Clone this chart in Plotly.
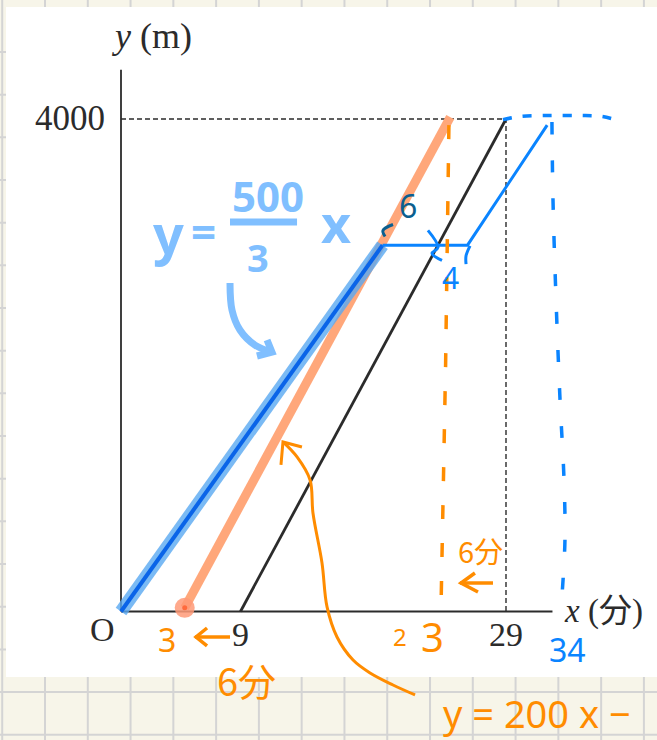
import plotly.graph_objects as go

# ---- textbook graph (x: minutes, y: metres) ----
axis_x_end = 32.5
axis_y_top = 4400
black_x = [9, 29]          # y = 200x - 1800
black_y = [0, 4000]
guide_x = [0, 29, 29]      # dashed guide to (29, 4000)
guide_y = [4000, 4000, 0]

# ---- hand-drawn annotations ----
orange_x = [4.8, 24.8]     # shifted line
orange_y = [30, 4015]
orange_dot_x = [4.8]
orange_dot_y = [30]
orange_dash_x = [24.7, 24.45, 24.1]
orange_dash_y = [3950, 2000, 0]

blue_hi_x = [0, 19.7]      # y = 500/3 x
blue_hi_y = [0, 2975]
blue_path_x = [19.7, 26.1, 32.1]
blue_path_y = [2975, 2975, 3950]
blue_top_dash_x = [28.77, 30.05, 32.31, 34.57, 36.23, 37.44]
blue_top_dash_y = [3995, 4020, 4028, 4028, 4020, 3987]
blue_side_dash_x = [32.46, 32.54, 32.77, 33.07, 33.37, 33.44, 33.22]
blue_side_dash_y = [3975, 3342, 2530, 1718, 1068, 581, 134]

orange_curve_x = [12.20, 13.26, 14.24, 14.46, 15.14, 15.52, 16.27, 17.48, 18.76, 20.49, 22.15]
orange_curve_y = [1377, 1255, 1068, 800, 394, 37, -207, -394, -499, -597, -678]
orange_head_x = [12.05, 12.20, 13.63]
orange_head_y = [1190, 1377, 1336]

# small "<-" arrows next to the shifted times
arrow_low_shaft_x = [5.57, 8.21]
arrow_low_shaft_y = [-207, -207]
arrow_low_head_x = [6.48, 5.65, 6.48]
arrow_low_head_y = [-134, -207, -280]
arrow_high_shaft_x = [25.53, 28.02]
arrow_high_shaft_y = [231, 231]
arrow_high_head_x = [26.66, 25.61, 26.89]
arrow_high_head_y = [313, 231, 158]

lb_curve_x = [8.21, 8.36, 8.96, 10.09, 11.37]
lb_curve_y = [2668, 2449, 2286, 2164, 2107]
lb_head_x = [11.0, 11.37, 10.24]
lb_head_y = [2205, 2107, 2075]
frac_bar_x = [8.21, 13.26]
frac_bar_y = [3163, 3163]

mark_end_x = [26.29, 25.99, 25.99]
mark_end_y = [2970, 2889, 2822]
mark_cross_x = [23.12, 23.88, 23.43, 24.18]
mark_cross_y = [3095, 2957, 2908, 2851]
teal_curl_x = [20.49, 19.73, 19.89]
teal_curl_y = [3143, 3095, 3046]

ORANGE = "#ff8c00"
SALMON = "#ffa77a"
BLUE = "#0a84ff"
LBLUE = "#80bfff"
TEAL = "#0b5f8f"
INK = "#2b2b2b"
CREAM = "#f7f5e9"
GRID = "#d4d4d4"

fig = go.Figure()


def line(x, y, color, width, dash="solid", opacity=1.0, shape="linear"):
    fig.add_trace(go.Scatter(
        x=x, y=y, mode="lines", hoverinfo="skip", opacity=opacity,
        line=dict(color=color, width=width, dash=dash, shape=shape),
    ))


# textbook axes and guides
line([0, axis_x_end], [0, 0], INK, 1.8)
line([0, 0], [0, axis_y_top], INK, 1.8)
line(guide_x, guide_y, INK, 1.4, dash="5px,3px")

# shifted orange line with start dot
line(orange_x, orange_y, SALMON, 9)
fig.add_trace(go.Scatter(x=orange_dot_x, y=orange_dot_y, mode="markers", hoverinfo="skip",
                         marker=dict(size=20, color="#ff9a78", opacity=0.85)))
fig.add_trace(go.Scatter(x=orange_dot_x, y=orange_dot_y, mode="markers", hoverinfo="skip",
                         marker=dict(size=5, color="#ff6a3d")))

# black line from the book
line(black_x, black_y, INK, 2.8)

# blue highlighted line
line(blue_hi_x, blue_hi_y, "#5aa9f2", 13, opacity=0.8)
line(blue_hi_x, blue_hi_y, "#0a64e8", 4)
line(blue_path_x, blue_path_y, BLUE, 3)
line(blue_top_dash_x, blue_top_dash_y, BLUE, 3.5, dash="9px,11px", shape="spline")
line(blue_side_dash_x, blue_side_dash_y, BLUE, 3.5, dash="12px,26px", shape="spline")
line(mark_end_x, mark_end_y, BLUE, 3, shape="spline")
line(mark_cross_x, mark_cross_y, BLUE, 3, shape="spline")
line(teal_curl_x, teal_curl_y, TEAL, 3, shape="spline")

# orange dashed line, curved arrow and small arrows
line(orange_dash_x, orange_dash_y, ORANGE, 3.5, dash="14px,24px")
line(orange_curve_x, orange_curve_y, ORANGE, 3, shape="spline")
line(orange_head_x, orange_head_y, ORANGE, 3)
line(arrow_low_shaft_x, arrow_low_shaft_y, ORANGE, 3.5)
line(arrow_low_head_x, arrow_low_head_y, ORANGE, 3.5)
line(arrow_high_shaft_x, arrow_high_shaft_y, ORANGE, 3.5)
line(arrow_high_head_x, arrow_high_head_y, ORANGE, 3.5)

# light blue curved arrow and fraction bar
line(lb_curve_x, lb_curve_y, LBLUE, 7, shape="spline")
line(lb_head_x, lb_head_y, LBLUE, 7)
line(frac_bar_x, frac_bar_y, LBLUE, 7)

SERIF = "Liberation Serif, DejaVu Serif, serif"
HAND = "Noto Sans, Noto Sans CJK JP, DejaVu Sans, sans-serif"


def label(x, y, text, size, color, font=SERIF, xanchor="center", bold=False):
    if bold:
        text = f"<b>{text}</b>"
    fig.add_annotation(x=x, y=y, text=text, showarrow=False, xanchor=xanchor, yanchor="middle",
                       font=dict(size=size, color=color, family=font))


# book labels
label(-1.05, 4000, "4000", 35, INK, xanchor="right")
label(-1.43, -150, "O", 34, INK)
label(9, -190, "9", 34, INK)
label(29, -190, "29", 34, INK)
label(-0.85, 4670, "<i>y</i> (m)", 36, INK, xanchor="left")
label(33.2, 30, "<i>x</i> (<span style='font-family:Noto Sans CJK JP'>分</span>)", 33, INK, xanchor="left")

# handwritten orange notes
label(3.46, -225, "3", 32, ORANGE, font=HAND)
label(9.42, -550, "6分", 38, ORANGE, font="Noto Sans CJK JP")
label(21.0, -200, "2", 24, ORANGE, font=HAND)
label(23.5, -205, "3", 40, ORANGE, font=HAND)
label(27.05, 500, "6分", 29, ORANGE, font="Noto Sans CJK JP")
label(24.1, -825, "y = 200 x −", 38, ORANGE, font=HAND, xanchor="left")

# handwritten blue notes
label(33.6, -305, "34", 32, BLUE, font=HAND)
label(21.6, 3300, "6", 32, TEAL, font=HAND)
label(24.85, 2715, "4", 30, BLUE, font=HAND)
label(3.54, 3070, "y", 54, LBLUE, font=HAND, bold=True)
label(6.25, 3090, "=", 44, LBLUE, font=HAND, bold=True)
label(11.1, 3380, "500", 42, LBLUE, font=HAND, bold=True)
label(10.32, 2880, "3", 38, LBLUE, font=HAND, bold=True)
label(16.2, 3160, "x", 52, LBLUE, font=HAND, bold=True)

# notebook paper: cream sheet, grid, white page
W, H = 657, 740
shapes = [dict(type="rect", xref="paper", yref="paper", x0=0, x1=1, y0=0, y1=1,
               fillcolor=CREAM, line=dict(width=0), layer="below")]
for k in range(-1, 15):
    px = 45 + 42.78 * k
    shapes.append(dict(type="line", xref="paper", yref="paper", x0=px / W, x1=px / W, y0=0, y1=1,
                       line=dict(color=GRID, width=2), layer="below"))
for k in range(0, 17):
    py = 52 + 42.67 * k
    shapes.append(dict(type="line", xref="paper", yref="paper", x0=0, x1=1, y0=1 - py / H, y1=1 - py / H,
                       line=dict(color=GRID, width=2), layer="below"))
shapes.append(dict(type="rect", xref="paper", yref="paper", x0=6 / W, x1=1, y0=1 - 677 / H, y1=1 - 7 / H,
                   fillcolor="white", line=dict(width=0), layer="below"))

fig.update_layout(
    width=W, height=H, margin=dict(l=0, r=0, t=0, b=0),
    paper_bgcolor=CREAM, plot_bgcolor="rgba(0,0,0,0)",
    showlegend=False, shapes=shapes,
    xaxis=dict(range=[-121 / 13.276, 536 / 13.276], visible=False, fixedrange=True),
    yaxis=dict(range=[-128.5 * 8.1215, 611.5 * 8.1215], visible=False, fixedrange=True),
)

fig.write_html("out.html", config={"displayModeBar": False})
